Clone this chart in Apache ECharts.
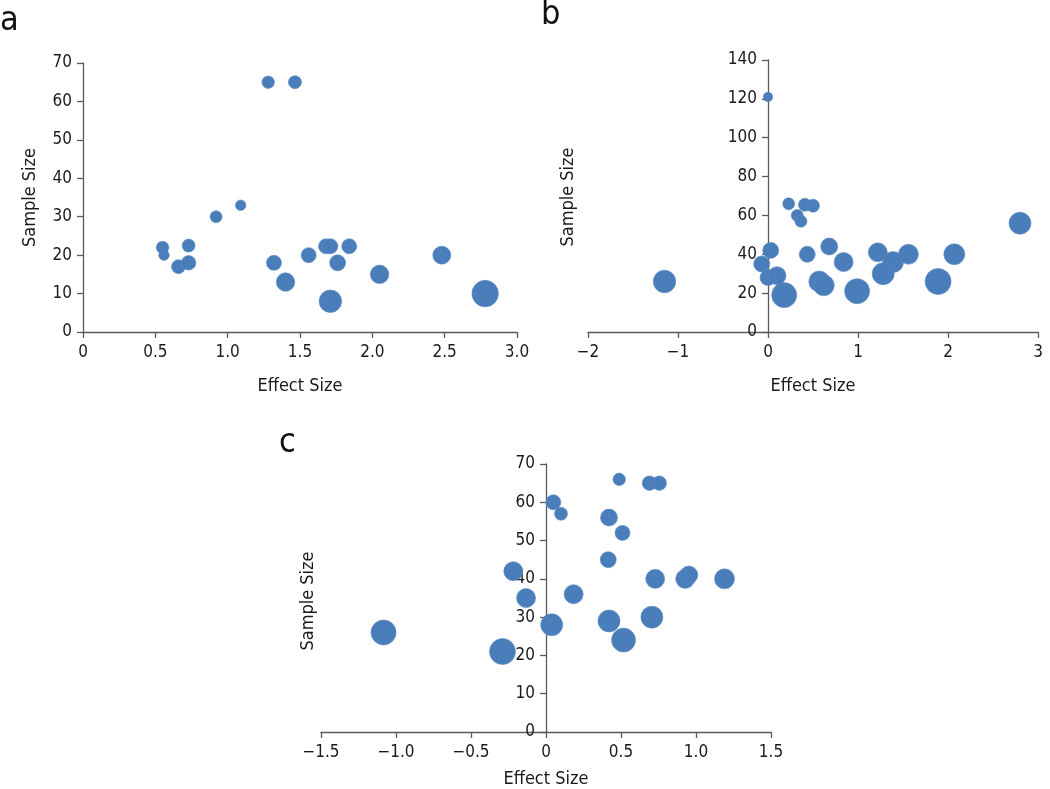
<!DOCTYPE html>
<html>
<head>
<meta charset="utf-8">
<script src="https://cdn.jsdelivr.net/npm/echarts@6/dist/echarts.min.js"></script>
<style>
html,body{margin:0;padding:0;background:#fff;}
#chart{width:1050px;height:789px;}
</style>
</head>
<body>
<div id="chart"></div>
<script>
// Panel a
const aEffect = [1.28, 1.465, 1.09, 0.92, 0.55, 0.56, 0.73, 0.66, 0.73, 1.32, 1.40, 1.56, 1.68, 1.71, 1.84, 1.76, 1.71, 2.05, 2.48, 2.78];
const aSample = [65, 65, 33, 30, 22, 20, 22.5, 17, 18, 18, 13, 20, 22.3, 22.3, 22.3, 18, 8, 15, 20, 10];
const aWeight = [12.5, 13, 10.5, 12, 12.5, 10.5, 13, 14, 14.5, 15, 18.5, 15, 15, 15, 15, 16, 22.5, 18.5, 18, 26.5];
// Panel b
const bEffect = [0.0, 0.23, 0.41, 0.50, 0.325, 0.366, 0.03, -0.07, 0.0, 0.10, 0.18, -1.15, 0.436, 0.68, 0.57, 0.62, 0.84, 0.99, 1.22, 1.39, 1.28, 1.56, 1.89, 2.07, 2.80];
const bSample = [121, 66, 65.5, 65, 60, 57, 42, 35, 28, 29, 19, 26, 40, 44, 26, 24, 36, 21, 41, 36, 30, 40, 26, 40, 56];
const bWeight = [9.5, 12, 13, 13, 12, 12, 16, 16, 16, 18, 25, 22.5, 16, 17, 21, 21, 19, 25, 19, 21, 22, 20, 26, 21, 22];
// Panel c
const cEffect = [0.488, 0.69, 0.755, 0.049, 0.10, 0.42, 0.51, 0.415, -0.218, -0.133, 0.184, 0.728, 0.928, 0.952, 1.19, 0.038, 0.42, 0.706, 0.517, -1.083, -0.29];
const cSample = [66, 65, 65, 60, 57, 56, 52, 45, 42, 35, 36, 40, 40, 41, 40, 28, 29, 30, 24, 26, 21];
const cWeight = [12.5, 14.5, 14.5, 15, 13, 17, 15, 16, 19, 19, 19, 19, 19, 18, 20, 22, 22, 22, 24, 25, 26];

const panelLetters = ['a', 'b', 'c'];
const xName = 'Effect Size';
const yName = 'Sample Size';

const FONT = "'DejaVu Sans Condensed', 'Liberation Sans Narrow', sans-serif";
const AXIS_COLOR = '#5a5a5a';
const TEXT_COLOR = '#1a1a1a';
const DOT = '#4a7ebb';

const GRIDS = [
  { left: 83, top: 63, width: 434, height: 269 },
  { left: 588, top: 60, width: 450, height: 272 },
  { left: 321, top: 464, width: 450, height: 271 }
];
const XR = [[0, 3, 0.5, 1], [-2, 3, 1, 0], [-1.5, 1.5, 0.5, 1]];

function pts(ex, ss, w) { return ex.map((e, i) => [e, ss[i], w[i]]); }
function fmtMinus(v, dec) {
  if (v === 0) return '0';
  const s = Math.abs(v).toFixed(dec);
  return (v < 0 ? '\u2212' : '') + s;
}

function xAxis(idx, gap) {
  const r = XR[idx];
  return {
    type: 'value', gridIndex: idx, min: r[0], max: r[1], interval: r[2],
    name: xName, nameLocation: 'middle', nameGap: gap,
    nameTextStyle: { fontFamily: FONT, fontSize: 18, color: TEXT_COLOR },
    axisLine: { show: true, onZero: false, lineStyle: { color: AXIS_COLOR, width: 1.3 } },
    axisTick: { show: true, inside: false, length: 6, lineStyle: { color: AXIS_COLOR, width: 1.3 } },
    axisLabel: { fontFamily: FONT, fontSize: 17, color: TEXT_COLOR, margin: 12,
      formatter: v => fmtMinus(v, r[3]) },
    splitLine: { show: false }
  };
}
function yAxis(idx, max, interval, showName) {
  const r = XR[idx];
  // place the y axis where x = 0
  const off = -GRIDS[idx].width * (0 - r[0]) / (r[1] - r[0]);
  return {
    type: 'value', gridIndex: idx, min: 0, max: max, interval: interval,
    position: 'left', offset: off,
    name: showName ? yName : '', nameLocation: 'middle', nameGap: 44,
    nameTextStyle: { fontFamily: FONT, fontSize: 18, color: TEXT_COLOR },
    axisLine: { show: true, onZero: false, lineStyle: { color: AXIS_COLOR, width: 1.3 } },
    axisTick: { show: true, inside: false, length: 6, lineStyle: { color: AXIS_COLOR, width: 1.3 } },
    axisLabel: { fontFamily: FONT, fontSize: 17, color: TEXT_COLOR, margin: 11 },
    splitLine: { show: false }
  };
}
function series(idx, data) {
  return {
    type: 'scatter', xAxisIndex: idx, yAxisIndex: idx, data: data,
    symbolSize: v => v[2],
    itemStyle: { color: DOT, opacity: 1, borderColor: '#5a88c2', borderWidth: 0.6 },
    emphasis: { disabled: true }
  };
}

const chart = echarts.init(document.getElementById('chart'), null, { renderer: 'canvas' });
chart.setOption({
  backgroundColor: '#fff',
  animation: false,
  grid: GRIDS,
  xAxis: [xAxis(0, 45), xAxis(1, 45), xAxis(2, 38)],
  yAxis: [yAxis(0, 70, 10, true), yAxis(1, 140, 20, false), yAxis(2, 70, 10, false)],
  graphic: [
    { type: 'text', x: 0, y: 4, style: { text: panelLetters[0], font: '34px ' + FONT, fill: '#111' } },
    { type: 'text', x: 541, y: -2, style: { text: panelLetters[1], font: '34px ' + FONT, fill: '#111' } },
    { type: 'text', x: 279, y: 426, style: { text: panelLetters[2], font: '34px ' + FONT, fill: '#111' } },
    { type: 'text', x: 568, y: 197, rotation: Math.PI / 2,
      style: { text: yName, font: '18px ' + FONT, fill: TEXT_COLOR, textAlign: 'center', textVerticalAlign: 'middle' } },
    { type: 'text', x: 308, y: 601, rotation: Math.PI / 2,
      style: { text: yName, font: '18px ' + FONT, fill: TEXT_COLOR, textAlign: 'center', textVerticalAlign: 'middle' } }
  ],
  series: [
    series(0, pts(aEffect, aSample, aWeight)),
    series(1, pts(bEffect, bSample, bWeight)),
    series(2, pts(cEffect, cSample, cWeight))
  ]
});
</script>
</body>
</html>
